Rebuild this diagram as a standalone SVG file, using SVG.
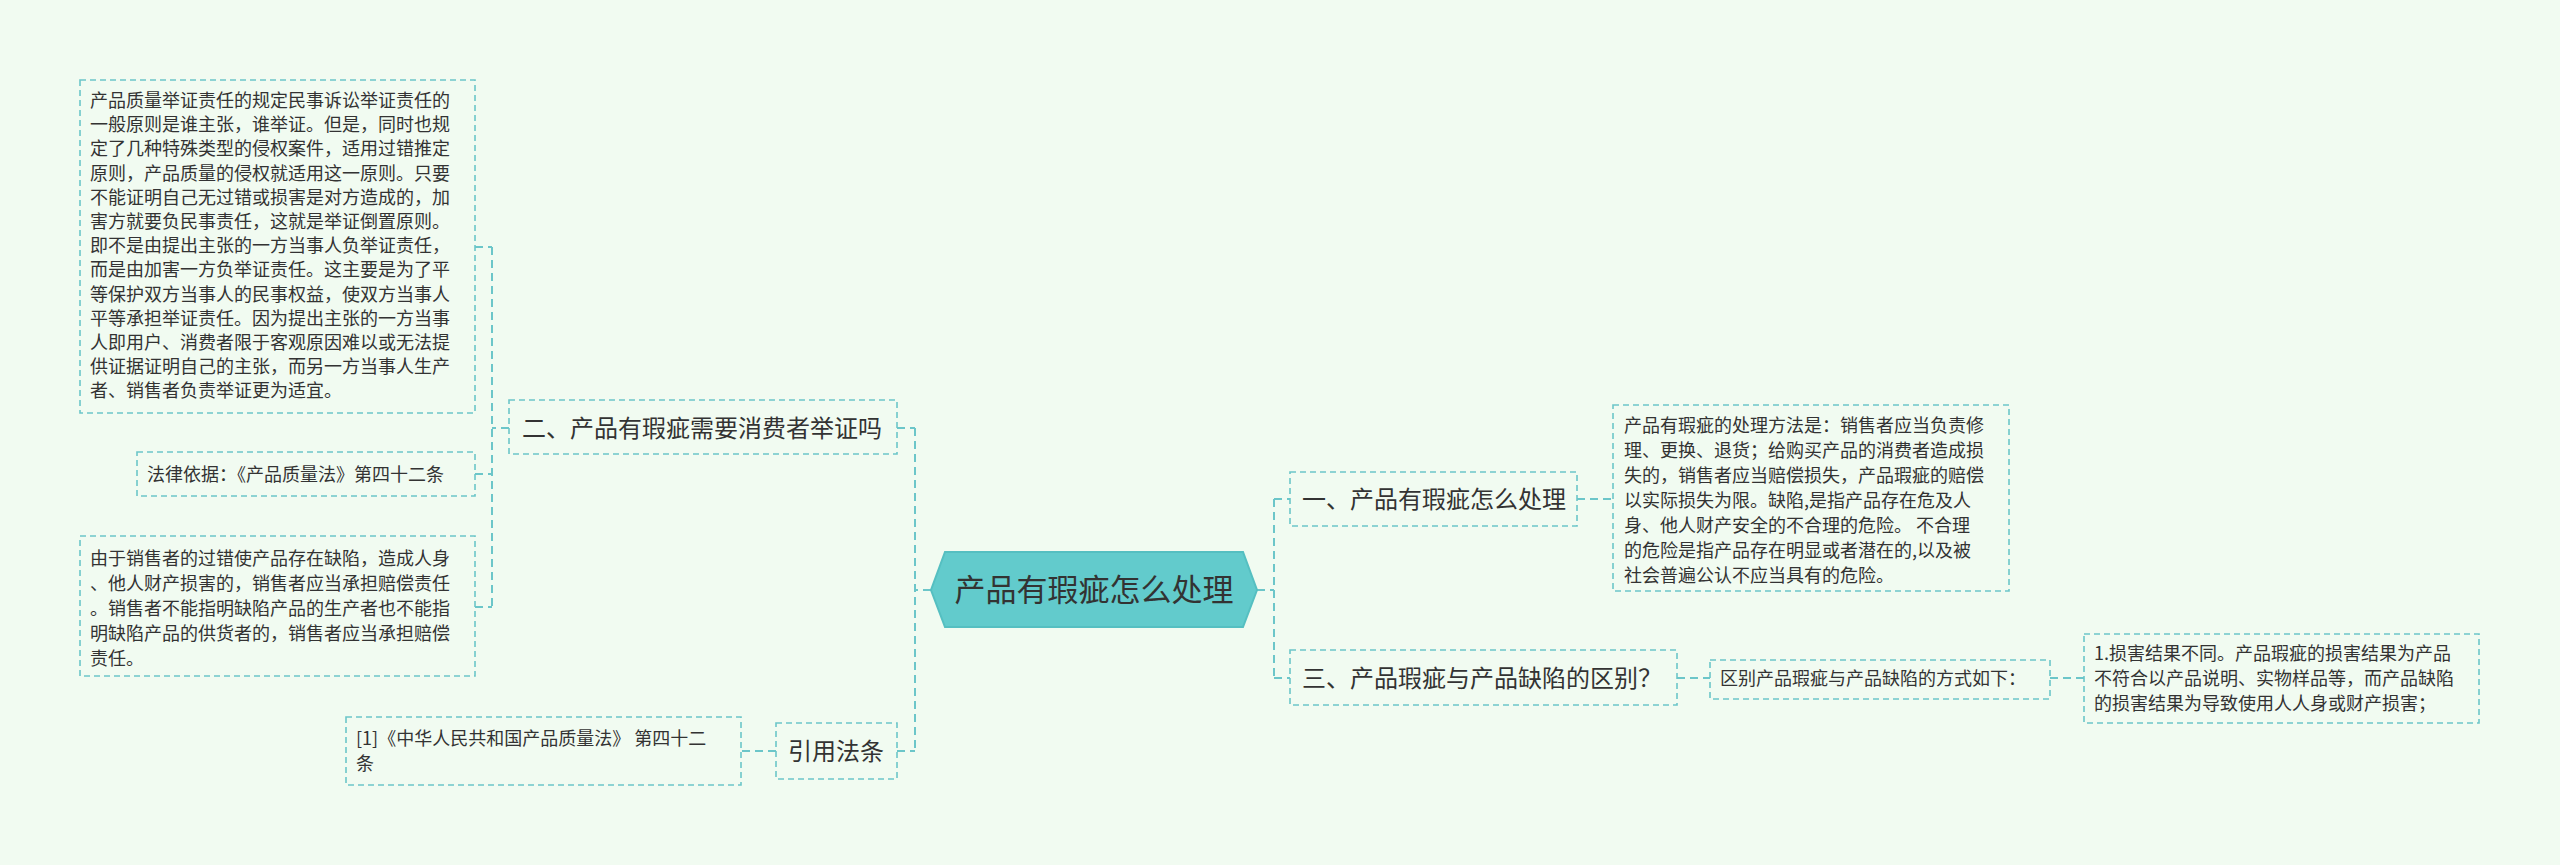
<svg xmlns="http://www.w3.org/2000/svg" width="2560" height="865" viewBox="0 0 2560 865">
<style>
text{font-family:"Noto Sans CJK SC","Noto Sans",sans-serif;fill:#333}
.b{fill:none;stroke:#6cc6c9;stroke-width:1.6;stroke-dasharray:6,4}
.c{fill:none;stroke:#6cc6c9;stroke-width:2;stroke-dasharray:8,5}
.t{font-size:18px}
.m{font-size:24px}
</style>
<rect width="2560" height="865" fill="#f1fbf1"/>
<g id="connectors">
<path class="c" d="M931 590 H915 M915 428 V751 M897 428 H915 M897 751 H915"/>
<path class="c" d="M1257 590 H1274 M1274 499 V678 M1274 499 H1290 M1274 678 H1290"/>
<path class="c" d="M509 428 H492 M492 247 V607 M475 247 H492 M475 474 H492 M475 607 H492"/>
<path class="c" d="M1577 499 H1613"/>
<path class="c" d="M1677 678 H1710 M2050 678 H2084"/>
<path class="c" d="M776 751 H741"/>
</g>
<g id="center">
<polygon points="945,552 1243,552 1257,590 1243,627 945,627 931,590" fill="#62cbcc" stroke="#55bfc1" stroke-width="2"/>
<text x="1094" y="601" font-size="31" text-anchor="middle">产品有瑕疵怎么处理</text>
</g>
<g id="n1"><rect class="b" x="1290" y="472" width="287" height="54"/><text class="m" x="1302" y="508">一、产品有瑕疵怎么处理</text></g>
<g id="d1"><rect class="b" x="1613" y="405" width="396" height="186"/>
<text class="t" font-size="17"><tspan x="1624" y="432">产品有瑕疵的处理方法是：销售者应当负责修</tspan><tspan x="1624" y="457">理、更换、退货；给购买产品的消费者造成损</tspan><tspan x="1624" y="482">失的，销售者应当赔偿损失，产品瑕疵的赔偿</tspan><tspan x="1624" y="507">以实际损失为限。缺陷,是指产品存在危及人</tspan><tspan x="1624" y="532">身、他人财产安全的不合理的危险。 不合理</tspan><tspan x="1624" y="557">的危险是指产品存在明显或者潜在的,以及被</tspan><tspan x="1624" y="582">社会普遍公认不应当具有的危险。</tspan></text></g>
<g id="n3"><rect class="b" x="1290" y="650" width="387" height="55"/><text class="m" x="1302" y="687">三、产品瑕疵与产品缺陷的区别？</text></g>
<g id="d3"><rect class="b" x="1710" y="660" width="340" height="39"/><text class="t" x="1720" y="685">区别产品瑕疵与产品缺陷的方式如下：</text></g>
<g id="d4"><rect class="b" x="2084" y="634" width="395" height="89"/>
<text class="t"><tspan x="2094" y="660">1.损害结果不同。产品瑕疵的损害结果为产品</tspan><tspan x="2094" y="685">不符合以产品说明、实物样品等，而产品缺陷</tspan><tspan x="2094" y="710">的损害结果为导致使用人人身或财产损害；</tspan></text></g>
<g id="n2"><rect class="b" x="509" y="400" width="388" height="54"/><text class="m" x="522" y="437">二、产品有瑕疵需要消费者举证吗</text></g>
<g id="d5"><rect class="b" x="80" y="80" width="395" height="333"/>
<text class="t"><tspan x="90" y="107">产品质量举证责任的规定民事诉讼举证责任的</tspan><tspan x="90" y="131">一般原则是谁主张，谁举证。但是，同时也规</tspan><tspan x="90" y="155">定了几种特殊类型的侵权案件，适用过错推定</tspan><tspan x="90" y="180">原则，产品质量的侵权就适用这一原则。只要</tspan><tspan x="90" y="204">不能证明自己无过错或损害是对方造成的，加</tspan><tspan x="90" y="228">害方就要负民事责任，这就是举证倒置原则。</tspan><tspan x="90" y="252">即不是由提出主张的一方当事人负举证责任，</tspan><tspan x="90" y="276">而是由加害一方负举证责任。这主要是为了平</tspan><tspan x="90" y="301">等保护双方当事人的民事权益，使双方当事人</tspan><tspan x="90" y="325">平等承担举证责任。因为提出主张的一方当事</tspan><tspan x="90" y="349">人即用户、消费者限于客观原因难以或无法提</tspan><tspan x="90" y="373">供证据证明自己的主张，而另一方当事人生产</tspan><tspan x="90" y="397">者、销售者负责举证更为适宜。</tspan></text></g>
<g id="d6"><rect class="b" x="137" y="452" width="338" height="44"/><text class="t" x="147" y="481">法律依据：《产品质量法》第四十二条</text></g>
<g id="d7"><rect class="b" x="80" y="536" width="395" height="140"/>
<text class="t"><tspan x="90" y="565">由于销售者的过错使产品存在缺陷，造成人身</tspan><tspan x="90" y="590">、他人财产损害的，销售者应当承担赔偿责任</tspan><tspan x="90" y="615">。销售者不能指明缺陷产品的生产者也不能指</tspan><tspan x="90" y="640">明缺陷产品的供货者的，销售者应当承担赔偿</tspan><tspan x="90" y="665">责任。</tspan></text></g>
<g id="n4"><rect class="b" x="776" y="723" width="121" height="56"/><text class="m" x="788" y="760">引用法条</text></g>
<g id="d8"><rect class="b" x="346" y="717" width="395" height="68"/>
<text class="t"><tspan x="356" y="745">[1]《中华人民共和国产品质量法》 第四十二</tspan><tspan x="356" y="770">条</tspan></text></g>
</svg>
